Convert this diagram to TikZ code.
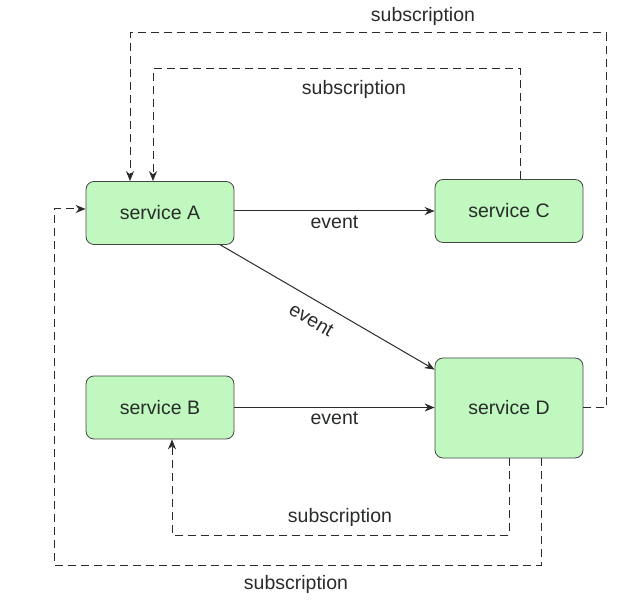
\documentclass[tikz,border=0pt]{standalone}
\usepackage{fontspec}
\setmainfont{Liberation Sans}
\usetikzlibrary{arrows.meta}
\definecolor{boxfill}{RGB}{192,248,192}
\definecolor{boxline}{RGB}{70,70,70}
\definecolor{ink}{RGB}{40,44,40}

\begin{document}
\begin{tikzpicture}[x=1pt,y=-1pt,
    font=\fontsize{19.5}{23}\selectfont,text=ink,
    svc/.style={draw=boxline,fill=boxfill,rounded corners=8pt,minimum width=148pt,minimum height=63pt,line width=0.8pt},
    evt/.style={draw=ink,line width=1pt,-{Stealth[length=10pt,width=8pt]}},
    sub/.style={evt,dash pattern=on 8pt off 5pt}]
            \useasboundingbox (0,0) rectangle (640,609);
            \node[svc] (A) at (160,213) {service A};
            \node[svc] (C) at (509,211) {service C};
            \node[svc] (B) at (160,407.5) {service B};
            \node[svc,minimum height=100pt] (D) at (509,408) {service D};
            \coordinate (o1) at (606,33);
            \coordinate (o2) at (153,69);
            \coordinate (o3) at (172,535);
            \coordinate (o4) at (54,565);
            \draw[evt] (A.east |- C.west) -- (C.west) node[midway,below=1pt] {event};
            \draw[evt] ([xshift=-14pt]A.south east) -- ([yshift=-12pt]D.north west) node[pos=0.47,sloped,below=9pt] {event};
            \draw[evt] (B.east) -- (B.east -| D.west) node[midway,below=1pt] {event};
            \draw[sub] (D.east) -| (o1) -| ([xshift=-30pt]A.north);
            \node at (423,16) {subscription};
            \draw[sub] ([xshift=11pt]C.north) |- (o2) -- ([xshift=-7pt]A.north);
            \node at (354,89) {subscription};
            \draw[sub] (D.south) |- (o3) -- ([xshift=12pt]B.south);
            \node at (340,517) {subscription};
            \draw[sub] ([xshift=32pt]D.south) |- (o4) |- ([yshift=4pt]A.west);
            \node at (296,584) {subscription};
        \end{tikzpicture}
\end{document}
